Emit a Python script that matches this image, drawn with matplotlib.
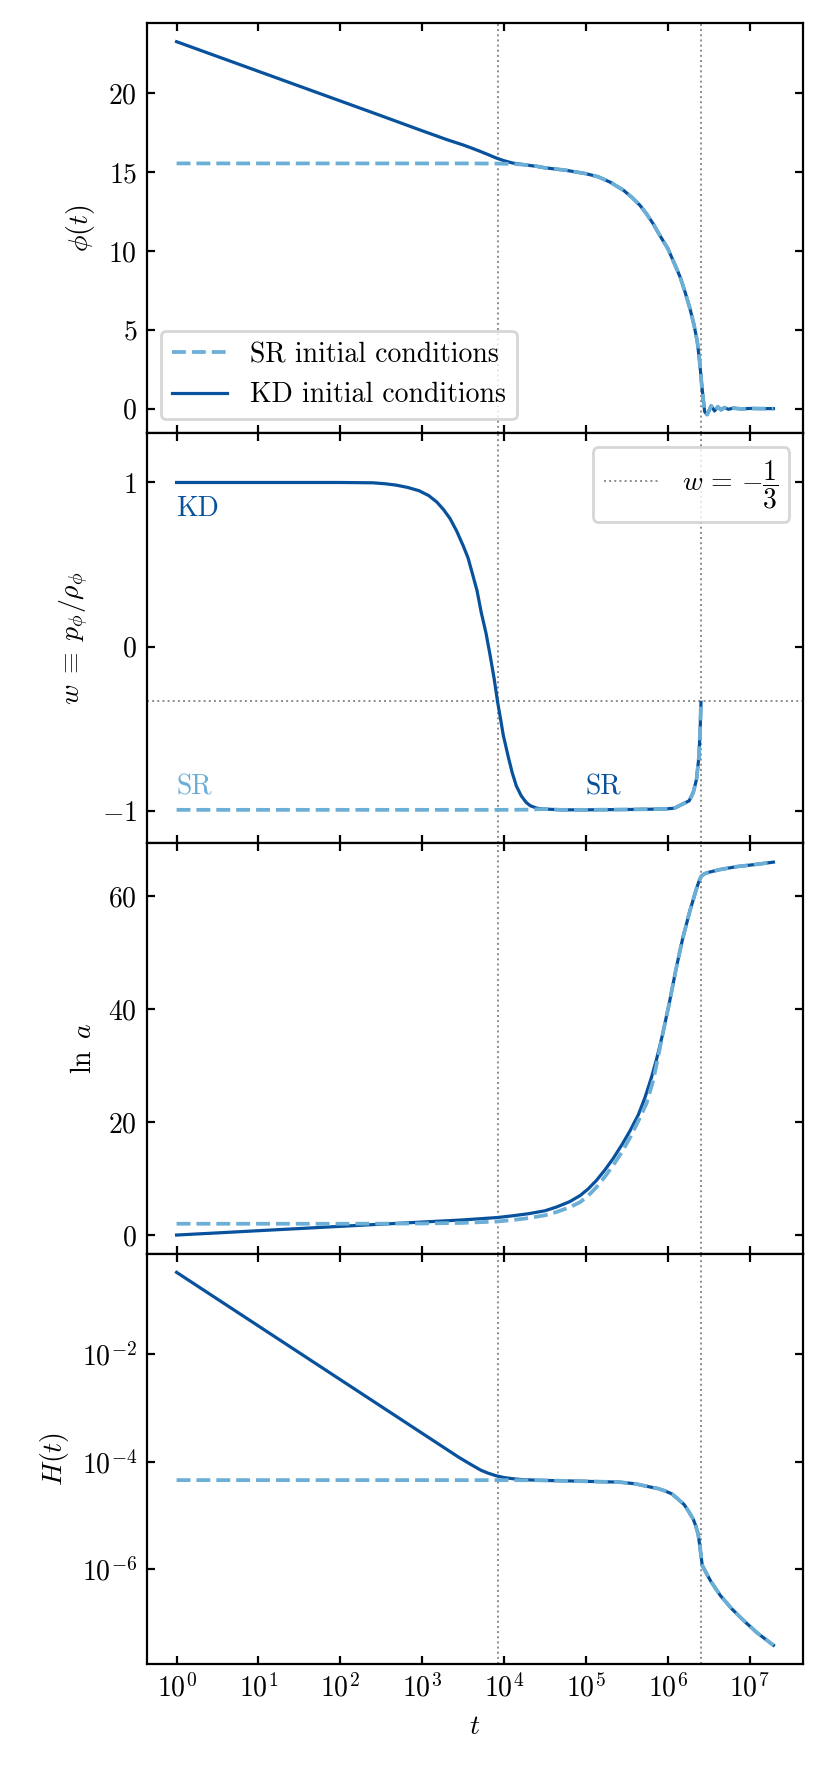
import numpy as np
import matplotlib
matplotlib.use("Agg")
import matplotlib.pyplot as plt
from matplotlib.ticker import NullLocator, FixedLocator

plt.rcParams["font.family"] = "serif"
plt.rcParams["font.serif"] = ["cmr10", "DejaVu Serif"]
plt.rcParams["mathtext.fontset"] = "cm"
plt.rcParams["axes.formatter.use_mathtext"] = True
plt.rcParams["axes.unicode_minus"] = True
plt.rcParams["font.size"] = 10

KD_COLOR = "#08519c"
SR_COLOR = "#6baed6"
VLINE_COLOR = "#8c8c8c"

# --- data (x given as log10 t) ---
T_KD_END = 3.92      # end of kinetic domination
T_INF_END = 6.405    # end of inflation

# phi(t): late part shared by both runs
phi_late_logt = [4.5, 4.75, 5.0, 5.15, 5.3, 5.46, 5.56, 5.66, 5.74, 5.82, 5.9, 6.0, 6.08,
                 6.15, 6.21, 6.27, 6.32, 6.36, 6.39, 6.41, 6.43, 6.45, 6.48, 6.51, 6.53,
                 6.57, 6.61, 6.65, 6.69, 6.74, 6.8, 6.9, 7.0, 7.15, 7.29]
phi_late = [15.27, 15.12, 14.9, 14.7, 14.35, 13.84, 13.4, 12.89, 12.35, 11.73, 11.0, 10.15,
            9.2, 8.35, 7.4, 6.35, 5.3, 4.24, 2.9, 1.71, 0.7, -0.2, -0.38, -0.05, 0.18,
            -0.15, 0.12, -0.08, 0.06, -0.04, 0.03, -0.02, 0.01, 0.0, 0.0]
phi_kd_early_logt = [0, 0.5, 1, 1.5, 2, 2.5, 3, 3.3, 3.5, 3.6, 3.7, 3.8, 3.9, 4.0, 4.1,
                     4.2, 4.3, 4.4]
phi_kd_early = [23.27, 22.33, 21.39, 20.45, 19.51, 18.57, 17.62, 17.06, 16.72, 16.53,
                16.33, 16.12, 15.9, 15.72, 15.58, 15.5, 15.43, 15.36]
phi_sr_early_logt = [0, 1, 2, 3, 3.5, 3.9, 4.1, 4.24, 4.4]
phi_sr_early = [15.55, 15.55, 15.55, 15.55, 15.55, 15.54, 15.52, 15.47, 15.37]

# equation of state w (only up to the end of inflation)
w_late_logt = [4.48, 4.7, 5.0, 5.5, 5.96, 6.08, 6.18, 6.26, 6.31, 6.35, 6.38, 6.395, 6.405]
w_late = [-0.99, -0.995, -0.995, -0.993, -0.99, -0.985, -0.96, -0.94, -0.89, -0.81,
          -0.67, -0.5, -0.34]
w_kd_early_logt = [0, 1, 2, 2.4, 2.55, 2.68, 2.82, 2.96, 3.08, 3.18, 3.26, 3.34, 3.42,
                   3.5, 3.56, 3.61, 3.67, 3.72, 3.78, 3.83, 3.88, 3.92, 3.96, 3.99, 4.05,
                   4.1, 4.15, 4.21, 4.27, 4.32, 4.4]
w_kd_early = [1.0, 1.0, 1.0, 0.998, 0.992, 0.984, 0.97, 0.95, 0.92, 0.88, 0.835, 0.78,
              0.705, 0.615, 0.54, 0.45, 0.34, 0.21, 0.08, -0.055, -0.2, -0.335, -0.45,
              -0.54, -0.67, -0.77, -0.85, -0.91, -0.95, -0.97, -0.985]
w_sr_early_logt = [0, 1, 2, 3, 4, 4.3]
w_sr_early = [-0.995, -0.995, -0.995, -0.995, -0.995, -0.994]

# ln a
lna_late_logt = [5.94, 6.02, 6.10, 6.18, 6.27, 6.35, 6.38, 6.41, 6.45, 6.5, 6.63,
                 6.84, 7.08, 7.29]
lna_late = [35.8, 41.2, 47.1, 52.4, 57.4, 61.3, 62.6, 63.54, 63.95, 64.2, 64.66,
            65.2, 65.6, 66.0]
lna_kd_early_logt = [0, 0.5, 1, 1.5, 2, 2.5, 3, 3.5, 3.92, 4.1, 4.3, 4.5, 4.64, 4.8, 4.93,
                     5.03, 5.13, 5.23, 5.33, 5.44, 5.54, 5.64, 5.72, 5.8, 5.86, 5.9]
lna_kd_early = [0.0, 0.38, 0.77, 1.15, 1.54, 1.92, 2.3, 2.68, 3.1, 3.4, 3.78, 4.3, 4.96,
                5.9, 7.0, 8.2, 9.7, 11.5, 13.5, 16.0, 18.5, 21.3, 24.3, 27.9, 31.0, 33.3]
lna_sr_early_logt = [0, 1, 2, 2.5, 3, 3.5, 3.92, 4.1, 4.3, 4.5, 4.64, 4.8, 4.93, 5.03,
                     5.13, 5.23, 5.33, 5.44, 5.54, 5.64, 5.74, 5.82, 5.88]
lna_sr_early = [2.0, 2.0, 2.0, 2.02, 2.05, 2.15, 2.4, 2.65, 3.0, 3.5, 4.07, 4.9, 5.84, 7.0,
                8.5, 10.3, 12.3, 14.7, 17.3, 20.2, 23.3, 27.3, 31.4]

# log10 H(t)
logh_late_logt = [4.4, 4.87, 5.41, 5.6, 5.75, 5.88, 5.96, 6.05, 6.12, 6.2, 6.26, 6.31,
                  6.34, 6.37, 6.39, 6.42, 6.45, 6.5, 6.53, 6.64, 6.78, 6.94, 7.10, 7.29]
logh_late = [-4.345, -4.36, -4.38, -4.41, -4.46, -4.5, -4.54, -4.6, -4.69, -4.8, -4.94,
             -5.07, -5.19, -5.35, -5.56, -5.93, -6.02, -6.16, -6.24, -6.49, -6.74, -6.98,
             -7.2, -7.42]
logh_kd_early_logt = [0, 1, 2, 3, 3.3, 3.45, 3.56, 3.65, 3.72, 3.8, 3.9, 4.0, 4.1, 4.2]
logh_kd_early = [-0.47, -1.47, -2.47, -3.47, -3.77, -3.92, -4.02, -4.1, -4.16, -4.21,
                 -4.26, -4.295, -4.315, -4.33]
logh_sr_early_logt = [0, 1, 2, 3, 4, 4.2]
logh_sr_early = [-4.342, -4.342, -4.342, -4.342, -4.343, -4.344]


def tt(logt):
    return 10.0 ** np.asarray(logt)


def run(early_x, early_y, late_x, late_y):
    return tt(list(early_x) + list(late_x)), list(early_y) + list(late_y)


fig, axes = plt.subplots(4, 1, figsize=(4.145, 8.86), dpi=200, sharex=True)
fig.subplots_adjust(left=0.177, right=0.969, top=0.987, bottom=0.061, hspace=0)

kd_kw = dict(color=KD_COLOR, lw=1.15, ls="-")
sr_kw = dict(color=SR_COLOR, lw=1.35, ls="--")

# phi
ax = axes[0]
l_kd, = ax.plot(*run(phi_kd_early_logt, phi_kd_early, phi_late_logt, phi_late),
                label="KD initial conditions", **kd_kw)
l_sr, = ax.plot(*run(phi_sr_early_logt, phi_sr_early, phi_late_logt, phi_late),
                label="SR initial conditions", **sr_kw)
ax.set_ylabel(r"$\phi(t)$")
ax.legend(handles=[l_sr, l_kd], loc="lower left")

# w
ax = axes[1]
ax.plot(*run(w_kd_early_logt, w_kd_early, w_late_logt, w_late), **kd_kw)
ax.plot(*run(w_sr_early_logt, w_sr_early, w_late_logt, w_late), **sr_kw)
ax.axhline(-1 / 3, color=VLINE_COLOR, lw=0.7, ls=":", zorder=0,
           label=r"$w\,=\,{-}\dfrac{1}{3}$")
ax.set_ylim(-1.2, 1.3)
ax.set_yticks([-1, 0, 1])
ax.set_ylabel(r"$w\;\equiv\;p_\phi/\rho_\phi$")
ax.text(1, 0.84, "KD", color=KD_COLOR, ha="left", va="center")
ax.text(1, -0.86, "SR", color=SR_COLOR, ha="left", va="center")
ax.text(1e5, -0.86, "SR", color=KD_COLOR, ha="left", va="center")
ax.legend(loc="upper right")

# ln a
ax = axes[2]
ax.plot(*run(lna_kd_early_logt, lna_kd_early, lna_late_logt, lna_late), **kd_kw)
ax.plot(*run(lna_sr_early_logt, lna_sr_early, lna_late_logt, lna_late), **sr_kw)
ax.set_yticks([0, 20, 40, 60])
ax.set_ylabel(r"$\ln\ a$")

# H
ax = axes[3]
hx, hy = run(logh_kd_early_logt, logh_kd_early, logh_late_logt, logh_late)
ax.plot(hx, tt(hy), **kd_kw)
hx, hy = run(logh_sr_early_logt, logh_sr_early, logh_late_logt, logh_late)
ax.plot(hx, tt(hy), **sr_kw)
ax.set_yscale("log")
ax.yaxis.set_major_locator(FixedLocator([1e-2, 1e-4, 1e-6]))
ax.yaxis.set_minor_locator(NullLocator())
ax.set_ylabel(r"$H(t)$")
ax.set_xscale("log")
ax.set_xlabel(r"$t$")
ax.xaxis.set_major_locator(FixedLocator([10.0 ** k for k in range(8)]))
ax.xaxis.set_minor_locator(NullLocator())

for ax in axes:
    ax.axvline(10 ** T_KD_END, color=VLINE_COLOR, lw=0.7, ls=":", zorder=0)
    ax.axvline(10 ** T_INF_END, color=VLINE_COLOR, lw=0.7, ls=":", zorder=0)
    ax.tick_params(direction="in", top=True, right=True, length=3, width=0.8)
    for s in ax.spines.values():
        s.set_linewidth(0.8)

fig.savefig("out.png", dpi=200, facecolor="white")
